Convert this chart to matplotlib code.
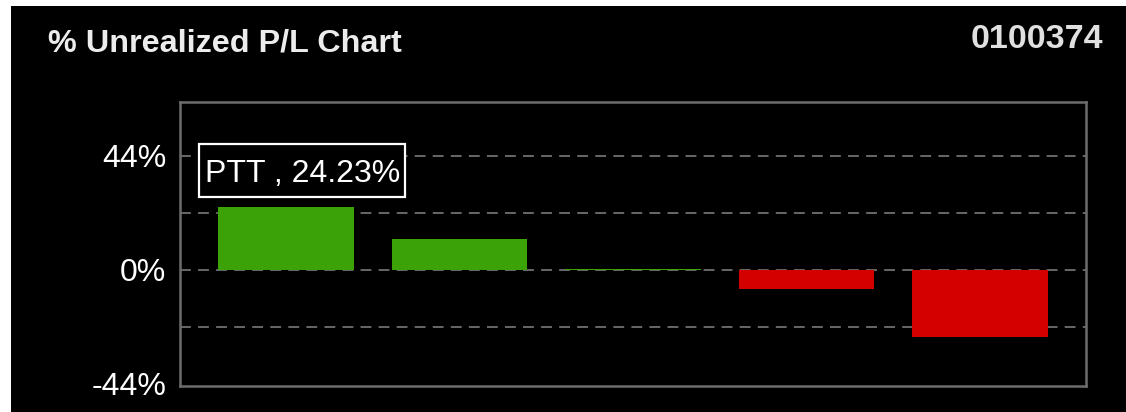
import numpy as np
import matplotlib.pyplot as plt
from matplotlib.patches import Rectangle

plt.rcParams['font.family'] = ['Liberation Sans', 'DejaVu Sans']

# unrealized P/L per position, in percent
pl_pct = [24.23, 12.0, 0.2, -7.3, -25.9]
tip_symbol = 'PTT'
tip_value = 24.23
account_no = '0100374'
tick_vals = [-44, 0, 44]
grid_vals = [-22, 0, 22, 44]

green = '#3ba308'
red = '#d40000'
grid_col = '#707070'

fig = plt.figure(figsize=(11.26, 4.12), dpi=100, facecolor='white')
# black panel, leaving a thin white strip left and top
fig.patches.append(Rectangle((11/1126, 0), 1, 1 - 6/412, transform=fig.transFigure,
                             facecolor='black', edgecolor='none', zorder=-5))

ax = fig.add_axes([180/1126, 26/412, 906/1126, 284/412])
ax.set_zorder(2)
ax.set_facecolor('black')

x = np.arange(len(pl_pct))
cols = [green if v >= 0 else red for v in pl_pct]
ax.bar(x, pl_pct, width=0.78, color=cols, zorder=3)

for g in grid_vals:
    ax.axhline(g, color=grid_col, lw=1.3, ls=(0, (6, 4)), zorder=1)

ax.set_xlim(-0.61, 4.61)
ax.set_ylim(-44.8, 64.8)
ax.set_xticks([])
ax.set_yticks(tick_vals)
ax.set_yticklabels([f'{v}%' for v in tick_vals])
ax.tick_params(axis='y', length=0, pad=10, labelsize=23, labelcolor='white')
for s in ax.spines.values():
    s.set_color('#6c6c6c')
    s.set_linewidth(1.8)

# hover box over first bar
ax.add_patch(Rectangle((-0.50, 28.2), 1.185, 20.4, facecolor='black', edgecolor='white',
                       lw=1.6, zorder=5))
ax.text(-0.465, 34.0, f'{tip_symbol} , {tip_value:.2f}%', fontsize=23, color='white',
        ha='left', va='baseline', zorder=6)

fig.text(48/1126, 1 - 43/412, '% Unrealized P/L Chart', fontsize=23.3, fontweight='bold',
         color='#ececec', ha='left', va='center', zorder=3)
fig.text(1103/1126, 1 - 40/412, account_no, fontsize=24.5, fontweight='bold',
         color='#e0e0e0', ha='right', va='center', zorder=3)

fig.savefig('out.png', dpi=100, facecolor='white')
